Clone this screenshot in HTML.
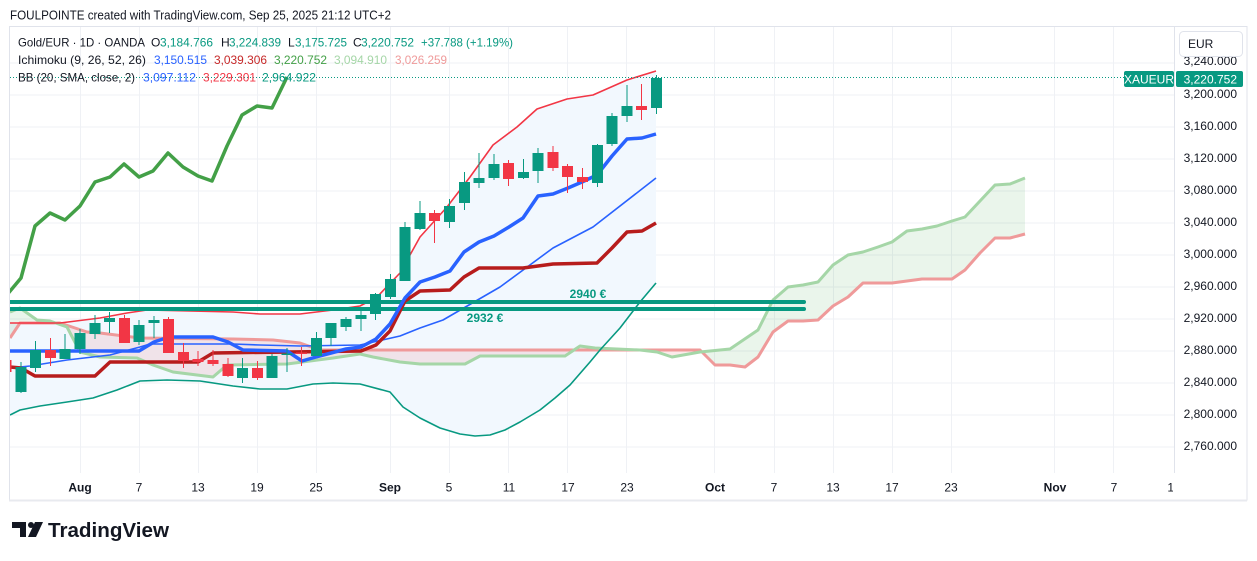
<!DOCTYPE html>
<html>
<head>
<meta charset="utf-8">
<style>
html,body{margin:0;padding:0;background:#fff;width:1257px;height:561px;overflow:hidden;}
svg{display:block;font-family:"Liberation Sans",Arial,sans-serif;}
</style>
</head>
<body>
<svg width="1257" height="561" viewBox="0 0 1257 561" xmlns="http://www.w3.org/2000/svg">
<defs>
  <clipPath id="plot"><rect x="10" y="27" width="1164" height="446"/></clipPath>
  <clipPath id="taxis"><rect x="10" y="474" width="1163" height="26"/></clipPath>
  <clipPath id="belowA"><polygon points="10,312 20,308 37,320 50,321 67,327 80,352 100,357 137,358 153,365 173,372 213,377 227,365 287,364 333,358 360,354 373,357 400,362 420,364 465,364 480,356 565,356 580,346 595,348 640,350 657,352 672,357 700,352 730,349 758,330 773,300 788,287 803,285 818,282 833,265 848,255 863,252 878,247 892,242 907,231 922,229 937,226 952,221 965,217 980,201 995,185 1010,184 1025,178 1025,473 10,473"/></clipPath>
  <clipPath id="aboveA"><polygon points="10,312 20,308 37,320 50,321 67,327 80,352 100,357 137,358 153,365 173,372 213,377 227,365 287,364 333,358 360,354 373,357 400,362 420,364 465,364 480,356 565,356 580,346 595,348 640,350 657,352 672,357 700,352 730,349 758,330 773,300 788,287 803,285 818,282 833,265 848,255 863,252 878,247 892,242 907,231 922,229 937,226 952,221 965,217 980,201 995,185 1010,184 1025,178 1025,27 10,27"/></clipPath>
  <clipPath id="belowB"><polygon points="10,338 20,323 60,323 87,332 100,333 140,338 233,339 273,340 300,343 317,349 320,350 700,350 715,365 730,365 745,367 758,357 773,332 788,321 803,321 818,320 833,306 848,297 863,283 892,283 907,281 922,279 952,279 965,270 980,253 995,238 1010,238 1025,234 1025,473 10,473"/></clipPath>
  <clipPath id="aboveB"><polygon points="10,338 20,323 60,323 87,332 100,333 140,338 233,339 273,340 300,343 317,349 320,350 700,350 715,365 730,365 745,367 758,357 773,332 788,321 803,321 818,320 833,306 848,297 863,283 892,283 907,281 922,279 952,279 965,270 980,253 995,238 1010,238 1025,234 1025,27 10,27"/></clipPath>
</defs>

<!-- header -->
<text x="10" y="19.5" font-size="13" fill="#131722" textLength="381" lengthAdjust="spacingAndGlyphs">FOULPOINTE created with TradingView.com, Sep 25, 2025 21:12 UTC+2</text>

<!-- frame -->
<rect x="9.5" y="26.5" width="1237.5" height="473.5" fill="#fff" stroke="#e0e3eb" stroke-width="1"/>
<line x1="9" y1="500.5" x2="1247" y2="500.5" stroke="#e8eaef" stroke-width="2"/>

<!-- grid -->
<g stroke="#eff1f5" stroke-width="1">
  <line x1="10" y1="63" x2="1174" y2="63"/>
  <line x1="10" y1="95" x2="1174" y2="95"/>
  <line x1="10" y1="127" x2="1174" y2="127"/>
  <line x1="10" y1="159" x2="1174" y2="159"/>
  <line x1="10" y1="191" x2="1174" y2="191"/>
  <line x1="10" y1="223" x2="1174" y2="223"/>
  <line x1="10" y1="255" x2="1174" y2="255"/>
  <line x1="10" y1="287" x2="1174" y2="287"/>
  <line x1="10" y1="319" x2="1174" y2="319"/>
  <line x1="10" y1="351" x2="1174" y2="351"/>
  <line x1="10" y1="383" x2="1174" y2="383"/>
  <line x1="10" y1="415" x2="1174" y2="415"/>
  <line x1="10" y1="447" x2="1174" y2="447"/>
  <line x1="80.5" y1="27" x2="80.5" y2="473"/>
  <line x1="139.5" y1="27" x2="139.5" y2="473"/>
  <line x1="198.5" y1="27" x2="198.5" y2="473"/>
  <line x1="257.5" y1="27" x2="257.5" y2="473"/>
  <line x1="316.5" y1="27" x2="316.5" y2="473"/>
  <line x1="390.5" y1="27" x2="390.5" y2="473"/>
  <line x1="449.5" y1="27" x2="449.5" y2="473"/>
  <line x1="508.5" y1="27" x2="508.5" y2="473"/>
  <line x1="567.5" y1="27" x2="567.5" y2="473"/>
  <line x1="626.5" y1="27" x2="626.5" y2="473"/>
  <line x1="714.5" y1="27" x2="714.5" y2="473"/>
  <line x1="774.5" y1="27" x2="774.5" y2="473"/>
  <line x1="833.5" y1="27" x2="833.5" y2="473"/>
  <line x1="892.5" y1="27" x2="892.5" y2="473"/>
  <line x1="951.5" y1="27" x2="951.5" y2="473"/>
  <line x1="1054.5" y1="27" x2="1054.5" y2="473"/>
  <line x1="1113.5" y1="27" x2="1113.5" y2="473"/>
</g>
<line x1="1174.5" y1="27" x2="1174.5" y2="473" stroke="#e0e3eb" stroke-width="1"/>

<g clip-path="url(#plot)">
  <!-- BB fill -->
  <polygon fill="#f2f8fe" points="10,323 60,323 100,318 127,313 147,310 233,312 260,314 300,314 333,310 360,306 377,297 400,273 420,237 447,207 470,177 493,145 517,127 537,109 567,99 593,95 627,80 656,71 656,283 640,302 620,328 600,350 590,362 570,385 555,398 540,410 520,422 505,430 490,435 475,436 460,434 440,428 420,418 403,407 390,392 360,384 333,383 313,384 287,389 260,389 233,386 200,381 167,380 140,381 117,390 93,398 67,402 40,406 20,410 10,415"/>

  <!-- cloud fills -->
  <g clip-path="url(#belowA)"><rect x="10" y="27" width="1020" height="446" fill="rgba(67,160,71,0.11)" clip-path="url(#aboveB)"/></g>
  <g clip-path="url(#belowB)"><rect x="10" y="27" width="1020" height="446" fill="rgba(229,83,80,0.12)" clip-path="url(#aboveA)"/></g>

  <!-- senkou lines -->
  <polyline fill="none" stroke="#ef9a9a" stroke-width="3" stroke-linejoin="round" points="10,338 20,323 60,323 87,332 100,333 140,338 233,339 273,340 300,343 317,349 320,350 700,350 715,365 730,365 745,367 758,357 773,332 788,321 803,321 818,320 833,306 848,297 863,283 892,283 907,281 922,279 952,279 965,270 980,253 995,238 1010,238 1025,234"/>
  <polyline fill="none" stroke="#a5d6a7" stroke-width="3" stroke-linejoin="round" points="10,312 20,308 37,320 50,321 67,327 80,352 100,357 137,358 153,365 173,372 213,377 227,365 287,364 333,358 360,354 373,357 400,362 420,364 465,364 480,356 565,356 580,346 595,348 640,350 657,352 672,357 700,352 730,349 758,330 773,300 788,287 803,285 818,282 833,265 848,255 863,252 878,247 892,242 907,231 922,229 937,226 952,221 965,217 980,201 995,185 1010,184 1025,178"/>

  <!-- BB lines -->
  <polyline fill="none" stroke="#f23645" stroke-width="1.6" stroke-linejoin="round" points="10,323 60,323 100,318 127,313 147,310 233,312 260,314 300,314 333,310 360,306 377,297 400,273 420,237 447,207 470,177 493,145 517,127 537,109 567,99 593,95 627,80 656,71"/>
  <polyline fill="none" stroke="#089981" stroke-width="1.6" stroke-linejoin="round" points="10,415 20,410 40,406 67,402 93,398 117,390 140,381 167,380 200,381 233,386 260,389 287,389 313,384 333,383 360,384 390,392 403,407 420,418 440,428 460,434 475,436 490,435 505,430 520,422 540,410 555,398 570,385 590,362 600,350 620,328 640,302 656,283"/>
  <polyline fill="none" stroke="#2962ff" stroke-width="1.6" stroke-linejoin="round" points="10,368 30,366 67,360 110,355 140,347 150,344 233,344 260,345 300,346 360,345 400,336 420,328 443,320 500,287 553,248 593,227 656,178"/>

  <!-- support lines -->
  <line x1="10" y1="302" x2="804" y2="302" stroke="#089981" stroke-width="4" stroke-linecap="round"/>
  <line x1="10" y1="309" x2="804" y2="309" stroke="#089981" stroke-width="4" stroke-linecap="round"/>
  <text x="588" y="298" font-size="12" font-weight="bold" fill="#089981" text-anchor="middle">2940 €</text>
  <text x="485" y="322" font-size="12" font-weight="bold" fill="#089981" text-anchor="middle">2932 €</text>

  <!-- ichimoku main lines -->
  <polyline fill="none" stroke="#b71c1c" stroke-width="3.5" stroke-linejoin="round" points="10,367 21,368 35,376 95,376 110,362 198,362 213,353 361,351 376,345 390,331 405,301 420,291 450,290 464,277 479,268 523,268 553,264 597,263 612,248 627,232 642,231 656,223"/>
  <polyline fill="none" stroke="#2962ff" stroke-width="3.5" stroke-linejoin="round" points="10,351 139,351 154,342 169,337 213,337 228,342 243,350 287,351 302,361 316,357 331,353 346,349 361,347 376,339 390,324 405,298 420,282 435,277 450,271 464,252 479,242 494,236 509,227 523,218 538,196 553,194 568,188 582,182 597,175 612,156 627,139 642,138 656,134"/>
  <polyline fill="none" stroke="#43a047" stroke-width="3.5" stroke-linejoin="round" points="6,296 21,278 35,226 50,213 65,220 80,206 95,182 110,177 124,164 139,177 153,171 168,153 183,167 198,176 212,181 227,146 242,115 257,106 272,108 287,77"/>

  <!-- candles -->
  <g stroke-width="1">
    <g fill="#f23645" stroke="#f23645"><line x1="6" y1="352" x2="6" y2="382"/><rect x="0.5" y="360" width="11" height="12" stroke="none"/></g>
    <g fill="#089981" stroke="#089981"><line x1="21" y1="362" x2="21" y2="393"/><rect x="15.5" y="367" width="11" height="25" stroke="none"/></g>
    <g fill="#089981" stroke="#089981"><line x1="35.5" y1="341" x2="35.5" y2="372"/><rect x="30" y="350" width="11" height="18" stroke="none"/></g>
    <g fill="#f23645" stroke="#f23645"><line x1="50.5" y1="338" x2="50.5" y2="366"/><rect x="45" y="350" width="11" height="8" stroke="none"/></g>
    <g fill="#089981" stroke="#089981"><line x1="65" y1="334" x2="65" y2="359"/><rect x="59.5" y="349" width="11" height="10" stroke="none"/></g>
    <g fill="#089981" stroke="#089981"><line x1="80" y1="329" x2="80" y2="354"/><rect x="74.5" y="333" width="11" height="16" stroke="none"/></g>
    <g fill="#089981" stroke="#089981"><line x1="95" y1="315" x2="95" y2="339"/><rect x="89.5" y="323" width="11" height="11" stroke="none"/></g>
    <g fill="#089981" stroke="#089981"><line x1="109.5" y1="312" x2="109.5" y2="333"/><rect x="104" y="318" width="11" height="4" stroke="none"/></g>
    <g fill="#f23645" stroke="#f23645"><line x1="124.5" y1="315" x2="124.5" y2="343"/><rect x="119" y="318" width="11" height="25" stroke="none"/></g>
    <g fill="#089981" stroke="#089981"><line x1="139" y1="320" x2="139" y2="345"/><rect x="133.5" y="325" width="11" height="17" stroke="none"/></g>
    <g fill="#089981" stroke="#089981"><line x1="154" y1="316" x2="154" y2="338"/><rect x="148.5" y="320" width="11" height="3" stroke="none"/></g>
    <g fill="#f23645" stroke="#f23645"><line x1="168.5" y1="317" x2="168.5" y2="353"/><rect x="163" y="319" width="11" height="34" stroke="none"/></g>
    <g fill="#f23645" stroke="#f23645"><line x1="183.5" y1="343" x2="183.5" y2="368"/><rect x="178" y="352" width="11" height="9" stroke="none"/></g>
    <g fill="#f23645" stroke="#f23645"><line x1="198" y1="351" x2="198" y2="366"/><rect x="192.5" y="359" width="11" height="3" stroke="none"/></g>
    <g fill="#f23645" stroke="#f23645"><line x1="213" y1="350" x2="213" y2="366"/><rect x="207.5" y="360" width="11" height="4" stroke="none"/></g>
    <g fill="#f23645" stroke="#f23645"><line x1="228" y1="358" x2="228" y2="377"/><rect x="222.5" y="364" width="11" height="12" stroke="none"/></g>
    <g fill="#089981" stroke="#089981"><line x1="242.5" y1="358" x2="242.5" y2="383"/><rect x="237" y="368" width="11" height="10" stroke="none"/></g>
    <g fill="#f23645" stroke="#f23645"><line x1="257.5" y1="361" x2="257.5" y2="380"/><rect x="252" y="368" width="11" height="10" stroke="none"/></g>
    <g fill="#089981" stroke="#089981"><line x1="272" y1="354" x2="272" y2="378"/><rect x="266.5" y="356" width="11" height="22" stroke="none"/></g>
    <g fill="#089981" stroke="#089981"><line x1="287" y1="348" x2="287" y2="372"/><rect x="281.5" y="353.5" width="11" height="1.5" stroke="none"/></g>
    <g fill="#f23645" stroke="#f23645"><line x1="301.5" y1="347" x2="301.5" y2="366"/><rect x="296" y="352.5" width="11" height="1.5" stroke="none"/></g>
    <g fill="#089981" stroke="#089981"><line x1="316.5" y1="332" x2="316.5" y2="356"/><rect x="311" y="338" width="11" height="18" stroke="none"/></g>
    <g fill="#089981" stroke="#089981"><line x1="331" y1="323" x2="331" y2="346"/><rect x="325.5" y="323" width="11" height="15" stroke="none"/></g>
    <g fill="#089981" stroke="#089981"><line x1="346" y1="317" x2="346" y2="331"/><rect x="340.5" y="319" width="11" height="8" stroke="none"/></g>
    <g fill="#089981" stroke="#089981"><line x1="361" y1="311" x2="361" y2="331"/><rect x="355.5" y="315" width="11" height="4" stroke="none"/></g>
    <g fill="#089981" stroke="#089981"><line x1="375.5" y1="293" x2="375.5" y2="320"/><rect x="370" y="294" width="11" height="20" stroke="none"/></g>
    <g fill="#089981" stroke="#089981"><line x1="390.5" y1="274" x2="390.5" y2="299"/><rect x="385" y="279" width="11" height="18" stroke="none"/></g>
    <g fill="#089981" stroke="#089981"><line x1="405" y1="222" x2="405" y2="281"/><rect x="399.5" y="227" width="11" height="54" stroke="none"/></g>
    <g fill="#089981" stroke="#089981"><line x1="420" y1="201" x2="420" y2="230"/><rect x="414.5" y="213" width="11" height="16" stroke="none"/></g>
    <g fill="#f23645" stroke="#f23645"><line x1="434.5" y1="210" x2="434.5" y2="243"/><rect x="429" y="213" width="11" height="8" stroke="none"/></g>
    <g fill="#089981" stroke="#089981"><line x1="449.5" y1="199" x2="449.5" y2="228"/><rect x="444" y="206" width="11" height="16" stroke="none"/></g>
    <g fill="#089981" stroke="#089981"><line x1="464.5" y1="172" x2="464.5" y2="210"/><rect x="459" y="182" width="11" height="21" stroke="none"/></g>
    <g fill="#089981" stroke="#089981"><line x1="479" y1="153" x2="479" y2="188"/><rect x="473.5" y="178" width="11" height="5" stroke="none"/></g>
    <g fill="#089981" stroke="#089981"><line x1="494" y1="154" x2="494" y2="180"/><rect x="488.5" y="164" width="11" height="14" stroke="none"/></g>
    <g fill="#f23645" stroke="#f23645"><line x1="508.5" y1="160" x2="508.5" y2="186"/><rect x="503" y="163" width="11" height="16" stroke="none"/></g>
    <g fill="#089981" stroke="#089981"><line x1="523.5" y1="159" x2="523.5" y2="179"/><rect x="518" y="172" width="11" height="6" stroke="none"/></g>
    <g fill="#089981" stroke="#089981"><line x1="538" y1="148" x2="538" y2="183"/><rect x="532.5" y="153" width="11" height="18" stroke="none"/></g>
    <g fill="#f23645" stroke="#f23645"><line x1="553" y1="146" x2="553" y2="171"/><rect x="547.5" y="152" width="11" height="16" stroke="none"/></g>
    <g fill="#f23645" stroke="#f23645"><line x1="567.5" y1="164" x2="567.5" y2="193"/><rect x="562" y="166" width="11" height="11" stroke="none"/></g>
    <g fill="#f23645" stroke="#f23645"><line x1="582.5" y1="168" x2="582.5" y2="189"/><rect x="577" y="177" width="11" height="5" stroke="none"/></g>
    <g fill="#089981" stroke="#089981"><line x1="597.5" y1="144" x2="597.5" y2="187"/><rect x="592" y="145" width="11" height="38" stroke="none"/></g>
    <g fill="#089981" stroke="#089981"><line x1="612" y1="113" x2="612" y2="146"/><rect x="606.5" y="116" width="11" height="28" stroke="none"/></g>
    <g fill="#089981" stroke="#089981"><line x1="627" y1="85" x2="627" y2="122"/><rect x="621.5" y="106" width="11" height="10" stroke="none"/></g>
    <g fill="#f23645" stroke="#f23645"><line x1="641.5" y1="84" x2="641.5" y2="120"/><rect x="636" y="106" width="11" height="4" stroke="none"/></g>
    <g fill="#089981" stroke="#089981"><line x1="656.5" y1="75" x2="656.5" y2="114"/><rect x="651" y="78" width="11" height="30" stroke="none"/></g>
  </g>
</g>

<!-- dotted price line -->
<line x1="10" y1="77.5" x2="1124" y2="77.5" stroke="#089981" stroke-width="1" stroke-dasharray="1,2"/>

<!-- legend -->
<g font-size="12">
  <text x="18" y="46.5" fill="#131722" textLength="127" lengthAdjust="spacingAndGlyphs">Gold/EUR · 1D · OANDA</text>
  <text x="151" y="46.5" fill="#131722">O</text>
  <text x="160" y="46.5" fill="#089981" textLength="53" lengthAdjust="spacingAndGlyphs">3,184.766</text>
  <text x="221" y="46.5" fill="#131722">H</text>
  <text x="229" y="46.5" fill="#089981" textLength="52" lengthAdjust="spacingAndGlyphs">3,224.839</text>
  <text x="288" y="46.5" fill="#131722">L</text>
  <text x="295" y="46.5" fill="#089981" textLength="52" lengthAdjust="spacingAndGlyphs">3,175.725</text>
  <text x="353" y="46.5" fill="#131722">C</text>
  <text x="361" y="46.5" fill="#089981" textLength="53" lengthAdjust="spacingAndGlyphs">3,220.752</text>
  <text x="421" y="46.5" fill="#089981" textLength="92" lengthAdjust="spacingAndGlyphs">+37.788 (+1.19%)</text>

  <text x="18" y="64" fill="#131722" textLength="128" lengthAdjust="spacingAndGlyphs">Ichimoku (9, 26, 52, 26)</text>
  <text x="154" y="64" fill="#2962ff" textLength="53" lengthAdjust="spacingAndGlyphs">3,150.515</text>
  <text x="214" y="64" fill="#c62828" textLength="53" lengthAdjust="spacingAndGlyphs">3,039.306</text>
  <text x="274" y="64" fill="#43a047" textLength="53" lengthAdjust="spacingAndGlyphs">3,220.752</text>
  <text x="334" y="64" fill="#a5d6a7" textLength="53" lengthAdjust="spacingAndGlyphs">3,094.910</text>
  <text x="395" y="64" fill="#ef9a9a" textLength="52" lengthAdjust="spacingAndGlyphs">3,026.259</text>

  <text x="18" y="81.5" fill="#131722" textLength="117" lengthAdjust="spacingAndGlyphs">BB (20, SMA, close, 2)</text>
  <text x="143" y="81.5" fill="#2962ff" textLength="53" lengthAdjust="spacingAndGlyphs">3,097.112</text>
  <text x="203" y="81.5" fill="#f23645" textLength="53" lengthAdjust="spacingAndGlyphs">3,229.301</text>
  <text x="262" y="81.5" fill="#089981" textLength="54" lengthAdjust="spacingAndGlyphs">2,964.922</text>
</g>

<!-- price axis -->
<g font-size="12" fill="#131722" text-anchor="end">
  <text x="1237" y="65">3,240.000</text>
  <text x="1237" y="98">3,200.000</text>
  <text x="1237" y="130">3,160.000</text>
  <text x="1237" y="162">3,120.000</text>
  <text x="1237" y="194">3,080.000</text>
  <text x="1237" y="226">3,040.000</text>
  <text x="1237" y="258">3,000.000</text>
  <text x="1237" y="290">2,960.000</text>
  <text x="1237" y="322">2,920.000</text>
  <text x="1237" y="354">2,880.000</text>
  <text x="1237" y="386">2,840.000</text>
  <text x="1237" y="418">2,800.000</text>
  <text x="1237" y="450">2,760.000</text>
</g>
<rect x="1179.5" y="31.5" width="63" height="25" rx="4" fill="#fff" stroke="#e0e3eb"/>
<text x="1188" y="48" font-size="12" fill="#131722">EUR</text>

<!-- price labels -->
<rect x="1124" y="71" width="50" height="16" rx="2" fill="#089981"/>
<text x="1149" y="83.5" font-size="12" fill="#fff" text-anchor="middle">XAUEUR</text>
<rect x="1176" y="71" width="67" height="16" rx="2" fill="#089981"/>
<text x="1237" y="83.5" font-size="12" fill="#fff" text-anchor="end">3,220.752</text>

<!-- time axis -->
<g clip-path="url(#taxis)" font-size="12" fill="#131722" text-anchor="middle">
  <text x="80" y="491.5" font-weight="bold">Aug</text>
  <text x="139" y="491.5">7</text>
  <text x="198" y="491.5">13</text>
  <text x="257" y="491.5">19</text>
  <text x="316" y="491.5">25</text>
  <text x="390" y="491.5" font-weight="bold">Sep</text>
  <text x="449" y="491.5">5</text>
  <text x="509" y="491.5">11</text>
  <text x="568" y="491.5">17</text>
  <text x="627" y="491.5">23</text>
  <text x="715" y="491.5" font-weight="bold">Oct</text>
  <text x="774" y="491.5">7</text>
  <text x="833" y="491.5">13</text>
  <text x="892" y="491.5">17</text>
  <text x="951" y="491.5">23</text>
  <text x="1055" y="491.5" font-weight="bold">Nov</text>
  <text x="1114" y="491.5">7</text>
  <text x="1174" y="491.5">13</text>
</g>

<!-- TradingView logo -->
<g fill="#131722">
  <rect x="12" y="522" width="14" height="6"/>
  <rect x="20" y="522" width="6" height="15"/>
  <circle cx="31" cy="525" r="3"/>
  <polygon points="35,522 43,522 36,537 28,537"/>
</g>
<text x="48" y="537" font-size="20" font-weight="bold" fill="#131722" textLength="121" lengthAdjust="spacingAndGlyphs">TradingView</text>
</svg>
</body>
</html>
